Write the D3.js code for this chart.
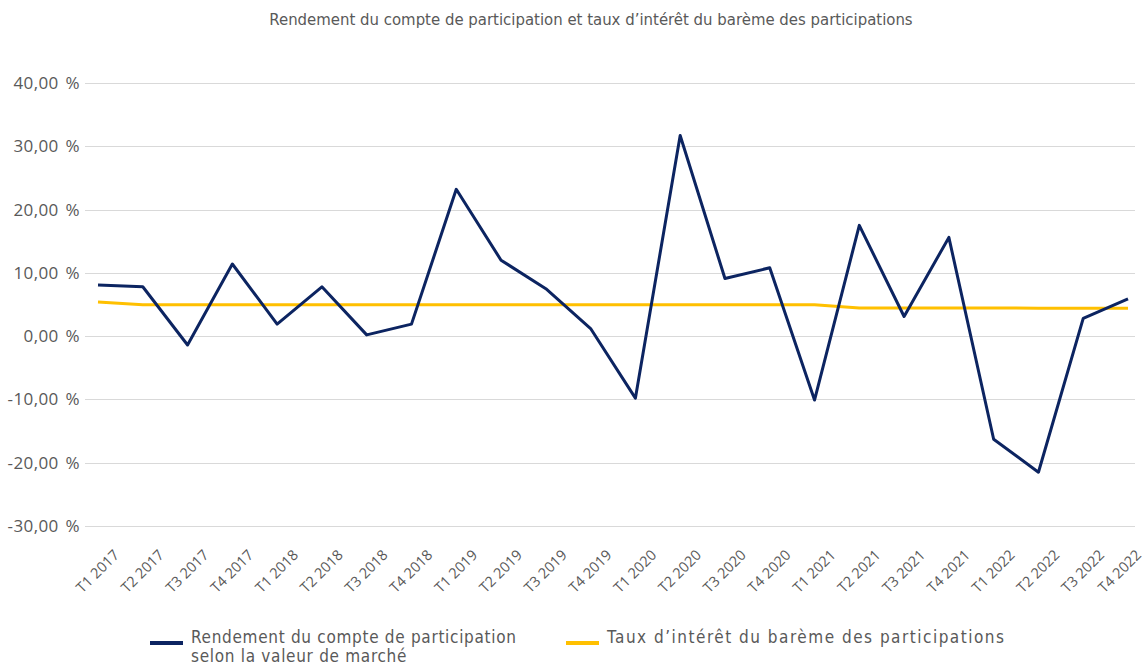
<!DOCTYPE html>
<meta charset="utf-8">
<style>
body { margin: 0; background: #fff; }
.grid line { stroke: #d9d9d9; stroke-width: 1.3; shape-rendering: crispEdges; }
.axis text { fill: #595959; font-family: "Open Sans", sans-serif; }
.title, .legend text { fill: #595959; font-family: "Liberation Sans Narrow", "DejaVu Sans Condensed", sans-serif; }
</style>
<body>
<script src="https://d3js.org/d3.v7.min.js"></script>
<script>

// --------------------------- data --------------------------
var categories = ["T1 2017", "T2 2017", "T3 2017", "T4 2017",
                  "T1 2018", "T2 2018", "T3 2018", "T4 2018",
                  "T1 2019", "T2 2019", "T3 2019", "T4 2019",
                  "T1 2020", "T2 2020", "T3 2020", "T4 2020",
                  "T1 2021", "T2 2021", "T3 2021", "T4 2021",
                  "T1 2022", "T2 2022", "T3 2022", "T4 2022"];

var rendement = [8.1, 7.8, -1.4, 11.4,
                 1.9, 7.8, 0.2, 1.9,
                 23.2, 12.0, 7.5, 1.2,
                 -9.8, 31.7, 9.1, 10.8,
                 -10.1, 17.5, 3.1, 15.6,
                 -16.3, -21.5, 2.8, 5.9];

var taux = [5.4, 4.95, 4.95, 4.95,
            4.95, 4.95, 4.95, 4.95,
            4.95, 4.95, 4.95, 4.95,
            4.95, 4.95, 4.95, 4.95,
            4.95, 4.45, 4.45, 4.45,
            4.45, 4.42, 4.42, 4.42];

var yTicks = [-30, -20, -10, 0, 10, 20, 30, 40];

var seriesNames = ["Rendement du compte de participation\nselon la valeur de marché",
                   "Taux d\u2019intérêt du barème des participations"];
var seriesColors = ["#0c2461", "#ffc000"];

var title = "Rendement du compte de participation et taux d\u2019intérêt du barème des participations";

// --------------------------- chart --------------------------
var width = 1144, height = 670;
var plot = {left: 85, right: 1135, top: 83, bottom: 526};

var svg = d3.select("body").append("svg")
    .attr("width", width)
    .attr("height", height);

var x = d3.scalePoint()
    .domain(categories)
    .range([98, 1128]);

var y = d3.scaleLinear()
    .domain([-30, 40])
    .range([plot.bottom, plot.top]);

var fmt = function(d) {
  return d3.format(".2f")(d).replace(".", ",").replace("\u2212", "-") + " %";
};

svg.append("text")
    .attr("class", "title")
    .attr("x", 591)
    .attr("y", 25)
    .attr("text-anchor", "middle")
    .style("font-size", "16.6px")
    .text(title);

// grid
svg.append("g")
    .attr("class", "grid")
  .selectAll("line")
    .data(yTicks)
  .enter().append("line")
    .attr("x1", plot.left)
    .attr("x2", plot.right)
    .attr("y1", function(d) { return Math.round(y(d)) + 0.5; })
    .attr("y2", function(d) { return Math.round(y(d)) + 0.5; });

// y labels
svg.append("g")
    .attr("class", "axis")
  .selectAll("text")
    .data(yTicks)
  .enter().append("text")
    .attr("x", 80)
    .attr("y", function(d) { return y(d); })
    .attr("dy", "0.35em")
    .attr("text-anchor", "end")
    .style("font-size", "17px")
    .style("letter-spacing", "0.4px")
    .style("word-spacing", "2px")
    .text(fmt);

// x labels
svg.append("g")
    .attr("class", "axis")
  .selectAll("text")
    .data(categories)
  .enter().append("text")
    .attr("text-anchor", "end")
    .style("font-size", "14.5px")
    .attr("transform", function(d) {
      return "translate(" + Math.min(x(d) + 22, 1142) + ",556) rotate(-45)";
    })
    .text(function(d) { return d; });

var line = d3.line()
    .x(function(d, i) { return x(categories[i]); })
    .y(function(d) { return y(d); });

svg.append("path")
    .datum(taux)
    .attr("fill", "none")
    .attr("stroke", seriesColors[1])
    .attr("stroke-width", 3)
    .attr("stroke-linejoin", "round")
    .attr("d", line);

svg.append("path")
    .datum(rendement)
    .attr("fill", "none")
    .attr("stroke", seriesColors[0])
    .attr("stroke-width", 3)
    .attr("stroke-linejoin", "round")
    .attr("d", line);

// legend
var legendPos = [150, 566];
var legendSpacing = ["0.7px", "1.5px"];
var legend = svg.append("g").attr("class", "legend")
  .selectAll("g")
    .data(seriesNames)
  .enter().append("g")
    .attr("transform", function(d, i) { return "translate(" + legendPos[i] + ",643)"; });

legend.append("line")
    .attr("x1", 0).attr("x2", 33)
    .attr("stroke", function(d, i) { return seriesColors[i]; })
    .attr("stroke-width", 4);

legend.append("text")
    .attr("x", 41)
    .attr("dy", "0.35em")
    .style("font-size", "17px")
    .style("letter-spacing", function(d, i) { return legendSpacing[i]; })
    .selectAll("tspan")
    .data(function(d) { return d.split("\n"); })
  .enter().append("tspan")
    .attr("x", 41)
    .attr("dy", function(d, i) { return i ? "1.1em" : 0; })
    .text(function(d) { return d; });

</script>
